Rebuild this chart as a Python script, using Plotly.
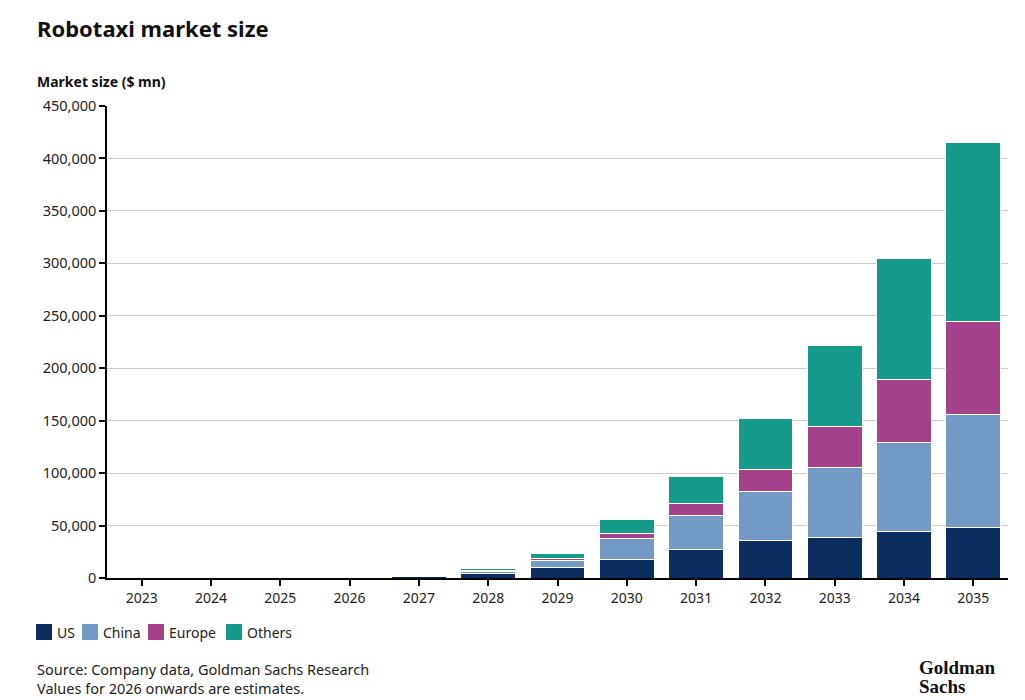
import plotly.graph_objects as go

years = ["2023", "2024", "2025", "2026", "2027", "2028", "2029", "2030", "2031", "2032", "2033", "2034", "2035"]
us = [100, 150, 250, 500, 1800, 4500, 10000, 18100, 26700, 35300, 39000, 43900, 48600]
china = [20, 30, 50, 100, 300, 1900, 6500, 20000, 33300, 47600, 65900, 85700, 107700]
europe = [10, 20, 30, 50, 100, 1200, 2300, 4800, 11500, 21000, 40000, 59200, 88700]
others = [10, 20, 30, 50, 200, 1300, 4100, 13300, 25700, 47700, 76300, 116200, 170600]

series = [("US", us, "#0b2d5f"), ("China", china, "#7399c6"),
          ("Europe", europe, "#a5428c"), ("Others", others, "#169a8a")]

FONT = "Noto Sans"

# page is shown with an 8px body offset; layout below is in figure pixels
L, R, T, B = 99, 1000, 98, 570
W, H = 1025, 700

def px(x):
    return (x - L) / (R - L)

def py(y):
    return (B - y) / (B - T)

fig = go.Figure()
for name, vals, col in series:
    fig.add_trace(go.Bar(x=years, y=vals, name=name, marker_color=col,
                         marker_line_color="white", marker_line_width=1,
                         showlegend=False))

annotations = [
    dict(text="<b>Robotaxi market size</b>", x=px(27), y=py(20), xanchor="left", yanchor="middle",
         font=dict(size=22, color="#111111", family=FONT)),
    dict(text="<b>Market size ($ mn)</b>", x=px(27), y=py(73), xanchor="left", yanchor="middle",
         font=dict(size=14, color="#111111", family=FONT)),
    dict(text="Source: Company data, Goldman Sachs Research<br>Values for 2026 onwards are estimates.",
         x=px(27), y=py(670), xanchor="left", yanchor="middle", align="left",
         font=dict(size=14.5, color="#222222", family=FONT)),
    dict(text="<b>Goldman</b>", x=px(909), y=py(659), xanchor="left", yanchor="middle",
         font=dict(size=19, color="#111111", family="Liberation Serif")),
    dict(text="<b>Sachs</b>", x=px(909), y=py(678), xanchor="left", yanchor="middle",
         font=dict(size=19, color="#111111", family="Liberation Serif")),
]

# custom compact legend
shapes = []
legend_x = [28, 74, 140, 218]
for (name, vals, col), lx in zip(series, legend_x):
    shapes.append(dict(type="rect", xref="paper", yref="paper",
                       x0=px(lx), x1=px(lx + 16), y0=py(616), y1=py(632),
                       fillcolor=col, line_width=0))
    annotations.append(dict(text=name, x=px(lx + 19), y=py(624), xanchor="left", yanchor="middle",
                            font=dict(size=14, color="#222222", family=FONT)))

for a in annotations:
    a.update(xref="paper", yref="paper", showarrow=False)

fig.update_layout(
    width=W, height=H,
    barmode="stack", bargap=0.21,
    paper_bgcolor="white", plot_bgcolor="white",
    margin=dict(l=L, r=W - R, t=T, b=H - B),
    font=dict(family=FONT, size=14, color="#111111"),
    showlegend=False,
    xaxis=dict(showline=True, linecolor="black", linewidth=1.5, ticks="outside",
               ticklen=6, tickcolor="black", tickwidth=1.5, showgrid=False,
               tickfont=dict(size=14, color="#222222")),
    yaxis=dict(range=[0, 450000], dtick=50000, tickformat=",d", showline=True,
               linecolor="black", linewidth=1.5, ticks="outside", ticklen=6,
               tickcolor="black", tickwidth=1.5, showgrid=True, gridcolor="#cccccc",
               gridwidth=1, zeroline=False, tickfont=dict(size=14.5, color="#222222")),
    annotations=annotations,
    shapes=shapes,
)

fig.write_html("out.html")
